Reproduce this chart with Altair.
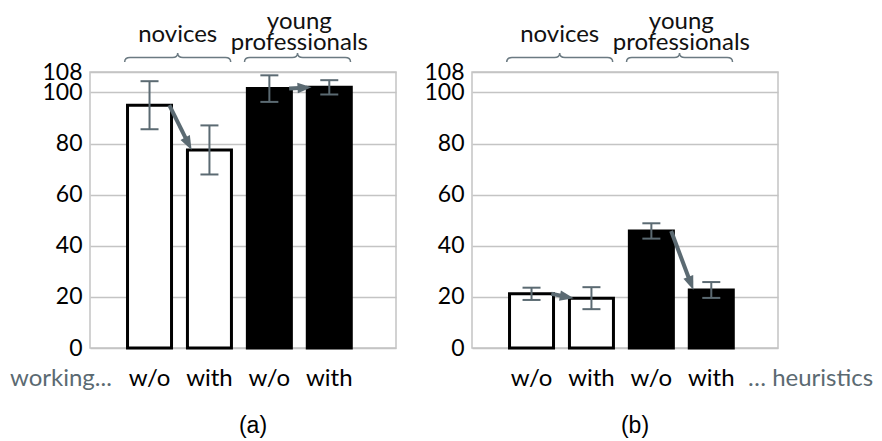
import math

import altair as alt
import pandas as pd

FONT = "Lato"
CAPTION_FONT = "Liberation Sans"
GREY = "#5b6a72"
GRID = "#c4c4c4"

# Bars: position on the x scale, group, condition and fill style
positions = [1, 2, 3, 4]
groups = ["novices", "novices", "young professionals", "young professionals"]
conditions = ["w/o", "with", "w/o", "with"]
fills = ["white", "white", "black", "black"]

# Panel (a) and panel (b): mean and error half-width per bar
means_a = [95.0, 77.5, 101.5, 102.0]
errors_a = [9.4, 9.6, 5.2, 2.8]
means_b = [21.2, 19.5, 45.8, 22.7]
errors_b = [2.4, 4.3, 3.0, 3.1]

# Group headers above the bars (one row per text line)
header_text = ["novices", "young", "professionals"]
header_center = [1.47, 3.5, 3.5]
header_line = ["single", "upper", "lower"]
brace_center = [1.47, 3.47]

y_ticks = [0, 20, 40, 60, 80, 100, 108]
Y_MAX = 108
captions = ["(a)", "(b)"]
side_notes = ["working...", "\u2026 heuristics"]

W, H = 306, 276
X_DOMAIN = [0.09, 5.03]
PX_X = W / (X_DOMAIN[1] - X_DOMAIN[0])
PX_Y = H / Y_MAX

BRACE = ("M -1 0.085 C -1 0.02 -0.97 0 -0.9 0 L -0.1 0 C -0.03 0 0 -0.03 0 -0.085 "
         "C 0 -0.03 0.03 0 0.1 0 L 0.9 0 C 0.97 0 1 0.02 1 0.085")
HEAD = "M -1 -0.75 L 1 0 L -1 0.75 Z"
HEAD_LEN = 14
LINE_Y = {"single": -30, "upper": -43, "lower": -22}

xs = alt.Scale(domain=X_DOMAIN, nice=False, zero=False)
ys = alt.Scale(domain=[0, Y_MAX], nice=False, zero=True)
yaxis = alt.Axis(values=y_ticks, grid=True, gridColor=GRID, gridWidth=1.5, title=None,
                 domain=False, ticks=False, labelFontSize=23, labelFont=FONT,
                 labelColor="black", labelPadding=8, labelOverlap=False)


def X(field):
    return alt.X(field, scale=xs, axis=None)


def Y(field):
    return alt.Y(field, scale=ys, axis=yaxis)


def arrows_for(means):
    rows = []
    for i in (0, 2):
        x1, y1 = positions[i] + 0.33, means[i]
        x2, y2 = positions[i + 1] - 0.3, means[i + 1]
        dx = (x2 - x1) * PX_X
        dy = (y2 - y1) * PX_Y
        n = math.hypot(dx, dy)
        ux, uy = dx / n, dy / n
        hx = x2 - (HEAD_LEN / 2) * ux / PX_X
        hy = y2 - (HEAD_LEN / 2) * uy / PX_Y
        ang = math.degrees(math.atan2(-dy, dx)) % 360
        rows.append(dict(x1=x1, y1=y1, hx=hx, hy=hy, angle=ang))
    return pd.DataFrame(rows)


def panel(means, errors, caption, note, note_x):
    df = pd.DataFrame({
        "pos": positions, "group": groups, "cond": conditions, "style": fills,
        "mean": means,
        "lo": [m - e for m, e in zip(means, errors)],
        "hi": [m + e for m, e in zip(means, errors)],
    })
    base = alt.Chart(df)

    bars = base.mark_bar(size=44, stroke="black", strokeWidth=3).encode(
        x=X("pos:Q"), y=Y("mean:Q"),
        fill=alt.Fill("style:N", scale=None),
    )
    err = base.mark_rule(color=GREY, strokeWidth=2).encode(
        x=X("pos:Q"), y=Y("lo:Q"), y2="hi:Q")
    cap_lo = base.mark_point(shape="stroke", size=324, color=GREY, strokeWidth=2,
                             opacity=1).encode(x=X("pos:Q"), y=Y("lo:Q"))
    cap_hi = base.mark_point(shape="stroke", size=324, color=GREY, strokeWidth=2,
                             opacity=1).encode(x=X("pos:Q"), y=Y("hi:Q"))

    arr = alt.Chart(arrows_for(means))
    shafts = arr.mark_rule(color=GREY, strokeWidth=4).encode(
        x=X("x1:Q"), y=Y("y1:Q"), x2="hx:Q", y2="hy:Q")
    heads = arr.mark_point(shape=HEAD, size=HEAD_LEN ** 2, filled=True, fill=GREY,
                           opacity=1, strokeWidth=0).encode(
        x=X("hx:Q"), y=Y("hy:Q"), angle=alt.Angle("angle:Q", scale=None))

    labels = base.mark_text(fontSize=24, font=FONT, color="black", baseline="alphabetic").encode(
        x=X("pos:Q"), y=alt.value(314), text="cond:N")

    hdr = alt.Chart(pd.DataFrame({"name": header_text, "c": header_center,
                                  "line": header_line}))
    headers = [
        hdr.transform_filter(alt.datum.line == key).mark_text(
            fontSize=24, font=FONT, color="#111111", baseline="alphabetic").encode(
            x=X("c:Q"), y=alt.value(yv), text="name:N")
        for key, yv in LINE_Y.items()
    ]
    braces = alt.Chart(pd.DataFrame({"c": brace_center})).mark_point(
        shape=BRACE, size=106 ** 2, filled=False, stroke="#6b7a82",
        strokeWidth=1.5, opacity=1).encode(x=X("c:Q"), y=alt.value(-14.5))

    side = alt.Chart(pd.DataFrame({"t": [note]})).mark_text(
        fontSize=24, font=FONT, color=GREY, baseline="alphabetic", align="left").encode(
        x=alt.value(note_x), y=alt.value(314), text="t:N")
    cap = alt.Chart(pd.DataFrame({"t": [caption]})).mark_text(
        fontSize=23, font=CAPTION_FONT, color="black", baseline="alphabetic").encode(
        x=alt.value(163), y=alt.value(361), text="t:N")

    return alt.layer(bars, err, cap_lo, cap_hi, shafts, heads, labels, *headers, braces,
                     side, cap).properties(width=W, height=H)


chart_a = panel(means_a, errors_a, captions[0], side_notes[0], -80)
chart_b = panel(means_b, errors_b, captions[1], side_notes[1], 276)

chart = alt.hconcat(chart_a, chart_b, spacing=26).properties(
    padding={"left": 9, "top": 9, "right": 2, "bottom": 2},
    background="white",
).configure_view(stroke=GRID, strokeWidth=1.5)

chart.save("out.html", embed_options={"renderer": "svg", "actions": False})
